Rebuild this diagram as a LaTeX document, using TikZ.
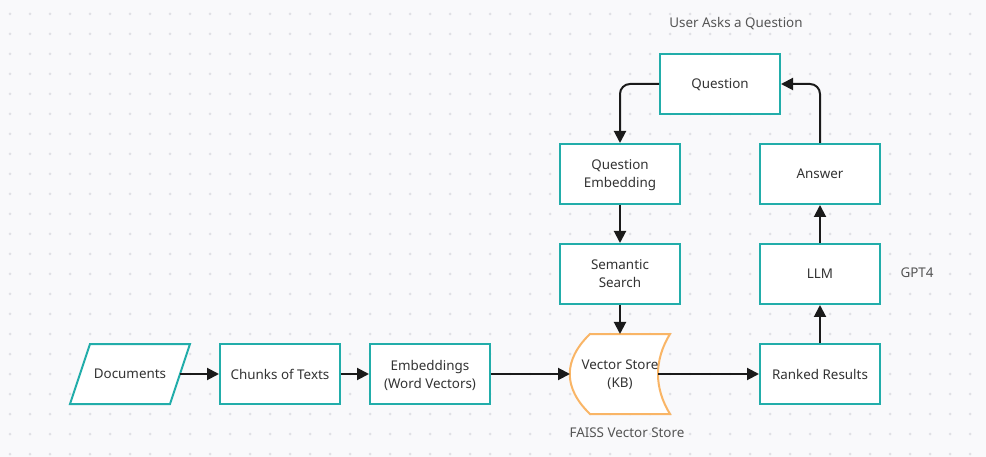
\documentclass[tikz,border=0pt]{standalone}
\usepackage{fontspec}
\setmainfont{Noto Sans}
\usetikzlibrary{arrows.meta}
\definecolor{teal1}{HTML}{22ADAA}
\definecolor{orange1}{HTML}{F9B566}
\definecolor{bg}{HTML}{F9F9FB}
\definecolor{dotc}{HTML}{E0E0E5}
\definecolor{txt}{HTML}{333333}
\definecolor{lab}{HTML}{555555}
\definecolor{linec}{HTML}{1A1A1A}
\begin{document}
\begin{tikzpicture}[x=1pt,y=-1pt,
  box/.style={draw=teal1, line width=2pt, fill=white, minimum width=120pt, minimum height=60pt, inner sep=0pt, align=center, text=txt, text depth=0pt, font=\fontsize{13.4}{18}\selectfont},
  plain/.style={minimum width=100pt, minimum height=60pt, inner sep=0pt, align=center, text=txt, text depth=0pt, font=\fontsize{13.4}{18}\selectfont},
  arr/.style={line width=2pt, draw=linec, -{Triangle[length=12pt,width=12pt]}},
  lbl/.style={text=lab, text depth=0pt, font=\fontsize{13.4}{16}\selectfont}]
\fill[bg] (0,0) rectangle (986,457);
\useasboundingbox (0,0) rectangle (986,457);
\foreach \i in {0,...,48} \foreach \j in {0,...,22} \fill[dotc] (10+20*\i,14+20*\j) circle (1.5);
% Documents parallelogram
\draw[teal1, line width=2pt, fill=white] (90,344) -- (190,344) -- (170,404) -- (70,404) -- cycle;
\node[plain] (docs) at (130,374) {Documents};
\node[box] (chunks) at (280,374) {Chunks of Texts};
\node[box] (emb) at (430,374) {Embeddings\\(Word Vectors)};
% Vector store
\draw[orange1, line width=2pt, fill=white] (590,334) -- (670,334)
  .. controls (654,360) and (654,388) .. (670,414) -- (590,414)
  .. controls (563,388) and (563,360) .. (590,334) -- cycle;
\node[plain, minimum width=80pt] (vs) at (620,374) {Vector Store\\(KB)};
\coordinate (vsL) at (570,374);
\coordinate (vsR) at (658,374);
\coordinate (vsT) at (620,334);
\node[box] (ranked) at (820,374) {Ranked Results};
\node[box] (llm) at (820,274) {LLM};
\node[box] (answer) at (820,174) {Answer};
\node[box] (question) at (720,84) {Question};
\node[box] (qe) at (620,174) {Question\\Embedding};
\node[box] (ss) at (620,274) {Semantic\\Search};
% labels
\node[lbl] (l1) at (736,22) {User Asks a Question};
\node[lbl] (l2) at (917,273) {GPT4};
\node[lbl] (l3) at (627,433) {FAISS Vector Store};
% edges
\draw[arr] (docs.east) -- (chunks.west);
\draw[arr] (chunks.east) -- (emb.west);
\draw[arr] (emb.east) -- (vsL);
\draw[arr] (vsR) -- (ranked.west);
\draw[arr] (ranked.north) -- (llm.south);
\draw[arr] (llm.north) -- (answer.south);
\draw[arr, rounded corners=10pt] (answer.north) |- (question.east);
\draw[arr, rounded corners=10pt] (question.west) -| (qe.north);
\draw[arr] (qe.south) -- (ss.north);
\draw[arr] (ss.south) -- (vsT);
\end{tikzpicture}
\end{document}
